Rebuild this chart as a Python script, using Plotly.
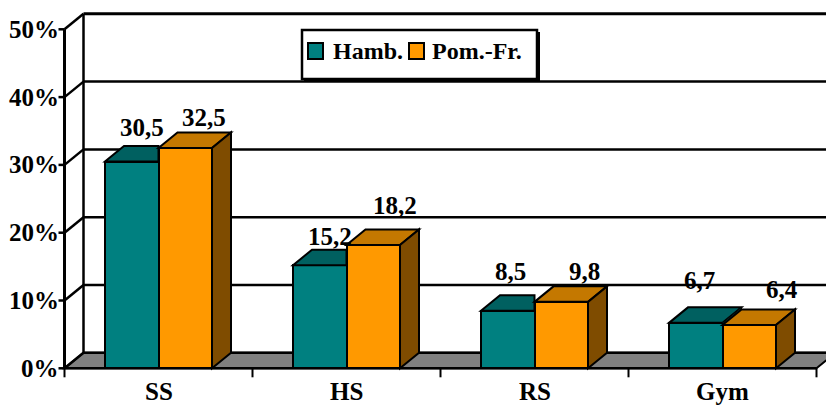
import plotly.graph_objects as go

# ---------------- data ----------------
categories = ["SS", "HS", "RS", "Gym"]
series_names = ["Hamb.", "Pom.-Fr."]
hamb = [30.5, 15.2, 8.5, 6.7]
pomfr = [32.5, 18.2, 9.8, 6.4]
y_ticks = [0, 10, 20, 30, 40, 50]
y_tick_labels = ["0%", "10%", "20%", "30%", "40%", "50%"]

# ---------------- style / geometry ----------------
W_PX, H_PX = 826, 411
PX_X = 188.0      # pixels per category
PX_Y = 6.78       # pixels per percent
X0_PX = 64.5      # front axis pixel position
Y0_PX = 368.3     # front zero pixel position
XMIN = -0.5 - X0_PX / PX_X
XMAX = XMIN + W_PX / PX_X
YMAX = Y0_PX / PX_Y
YMIN = YMAX - H_PX / PX_Y
DX = 19.0 / PX_X          # depth offset (x)
DY = 15.5 / PX_Y          # depth offset (y)
BW = 53.5 / PX_X          # bar width

TEAL = "#008080"
TEAL_TOP = "#006060"
TEAL_SIDE = "#004040"
ORANGE = "#FF9900"
ORANGE_TOP = "#C47800"
ORANGE_SIDE = "#7F4C00"
FLOOR = "#808080"
FONT = "Liberation Serif"
FS = 25
FS_LEG = 24

# label offsets (pixels) from each bar's front-top centre
lab_dx_px = [[10.5, 10.5, 3, 4], [19, 22, 23, 33]]
lab_dy_px = [[34.5, 29, 39, 42], [30, 39, 30, 35]]

series_vals = [hamb, pomfr]
fronts = [TEAL, ORANGE]

fig = go.Figure()
for s, vals in enumerate(series_vals):
    fig.add_trace(go.Bar(
        x=list(range(len(categories))), y=vals,
        width=BW, offset=-BW if s == 0 else 0,
        marker=dict(color=fronts[s], line=dict(color="black", width=2)),
        name=series_names[s], showlegend=False,
        hovertemplate=series_names[s] + ": %{y}<extra></extra>",
    ))

shapes = []


def poly(pts, fill, layer="above", lw=2):
    d = "M " + " L ".join(f"{x},{y}" for x, y in pts) + " Z"
    return dict(type="path", path=d, xref="x", yref="y", fillcolor=fill,
                line=dict(color="black", width=lw), layer=layer)


def line(x0, y0, x1, y1, lw=2.5, layer="below", xref="x", yref="y"):
    return dict(type="line", x0=x0, y0=y0, x1=x1, y1=y1, xref=xref, yref=yref,
                line=dict(color="black", width=lw), layer=layer)


n = len(categories)
left = -0.5
right = n - 0.5

# floor
shapes.append(poly([(left, 0), (right, 0), (right + DX, DY), (left + DX, DY)],
                   FLOOR, layer="below", lw=2))
# back-wall gridlines, side-wall diagonals, front ticks
for t in y_ticks:
    shapes.append(line(left + DX, t + DY, XMAX + 0.2, t + DY,
                       lw=3 if t == y_ticks[-1] else 2.5))
    shapes.append(line(left, t, left + DX, t + DY, lw=2.5))
    shapes.append(line(left - 6 / PX_X, t, left, t, lw=2.5))
shapes.append(line(left + DX, DY, left + DX, y_ticks[-1] + DY, lw=2.5))
shapes.append(line(left, 0, left, y_ticks[-1], lw=3))
shapes.append(line(left, 0, right, 0, lw=2.5))
for k in range(n + 1):
    shapes.append(line(k - 0.5, 0, k - 0.5, -9 / PX_Y, lw=2))

# tops and sides
for i in range(n):
    b = i
    vt, vo = hamb[i], pomfr[i]
    if vo >= vt:
        shapes.append(poly([(b - BW, vt), (b, vt), (b, vt + DY), (b - BW + DX, vt + DY)],
                           TEAL_TOP))
    else:
        shapes.append(poly([(b - BW, vt), (b, vt), (b + DX, vt + DY), (b - BW + DX, vt + DY)],
                           TEAL_TOP))
        shapes.append(poly([(b, vo), (b, vt), (b + DX, vt + DY), (b + DX, vo + DY)],
                           TEAL_SIDE, lw=1))
    shapes.append(poly([(b, vo), (b + BW, vo), (b + BW + DX, vo + DY), (b + DX, vo + DY)],
                       ORANGE_TOP))
    shapes.append(poly([(b + BW, 0), (b + BW + DX, DY), (b + BW + DX, vo + DY), (b + BW, vo)],
                       ORANGE_SIDE))

annotations = []
fnt = dict(family=FONT, size=FS, color="black")
fnt_leg = dict(family=FONT, size=FS_LEG, color="black")

# value labels
for s, vals in enumerate(series_vals):
    for i, v in enumerate(vals):
        cx = i - BW / 2 if s == 0 else i + BW / 2
        annotations.append(dict(
            x=cx + lab_dx_px[s][i] / PX_X, y=v + lab_dy_px[s][i] / PX_Y,
            xref="x", yref="y", text="<b>" + f"{v:.1f}".replace(".", ",") + "</b>",
            showarrow=False, xanchor="center", yanchor="middle", font=fnt))

# y tick labels
for t, lab in zip(y_ticks, y_tick_labels):
    annotations.append(dict(x=left, y=t, xref="x", yref="y", text="<b>" + lab + "</b>",
                            showarrow=False, xanchor="right", yanchor="middle",
                            xshift=-4, font=fnt))
# category labels
for i, c in enumerate(categories):
    annotations.append(dict(x=i, y=-(391 - Y0_PX) / PX_Y, xref="x", yref="y",
                            text="<b>" + c + "</b>",
                            showarrow=False, xanchor="center", yanchor="middle", font=fnt))


# legend (pixel-based box)
def px(x):
    return x / W_PX


def py(y):
    return 1 - y / H_PX


shapes.append(dict(type="rect", xref="paper", yref="paper", x0=px(304), x1=px(540),
                   y0=py(82), y1=py(32), fillcolor="black", line=dict(width=0), layer="above"))
shapes.append(dict(type="rect", xref="paper", yref="paper", x0=px(302), x1=px(537),
                   y0=py(79), y1=py(30), fillcolor="white",
                   line=dict(color="black", width=2.5), layer="above"))
leg_sq_x = [308, 409]
leg_tx_x = [331, 430]
for s in range(2):
    shapes.append(dict(type="rect", xref="paper", yref="paper",
                       x0=px(leg_sq_x[s]), x1=px(leg_sq_x[s] + 15),
                       y0=py(59), y1=py(43), fillcolor=fronts[s],
                       line=dict(color="black", width=2), layer="above"))
    annotations.append(dict(x=px(leg_tx_x[s]), y=py(51), xref="paper", yref="paper",
                            text="<b>" + series_names[s] + "</b>", showarrow=False,
                            xanchor="left", yanchor="middle", font=fnt_leg))

fig.update_layout(
    width=W_PX, height=H_PX,
    margin=dict(l=0, r=0, t=0, b=0),
    paper_bgcolor="white", plot_bgcolor="white",
    barmode="overlay", bargap=0,
    xaxis=dict(range=[XMIN, XMAX], visible=False, fixedrange=True),
    yaxis=dict(range=[YMIN, YMAX], visible=False, fixedrange=True),
    shapes=shapes, annotations=annotations,
    showlegend=False,
)

fig.write_html("out.html")
